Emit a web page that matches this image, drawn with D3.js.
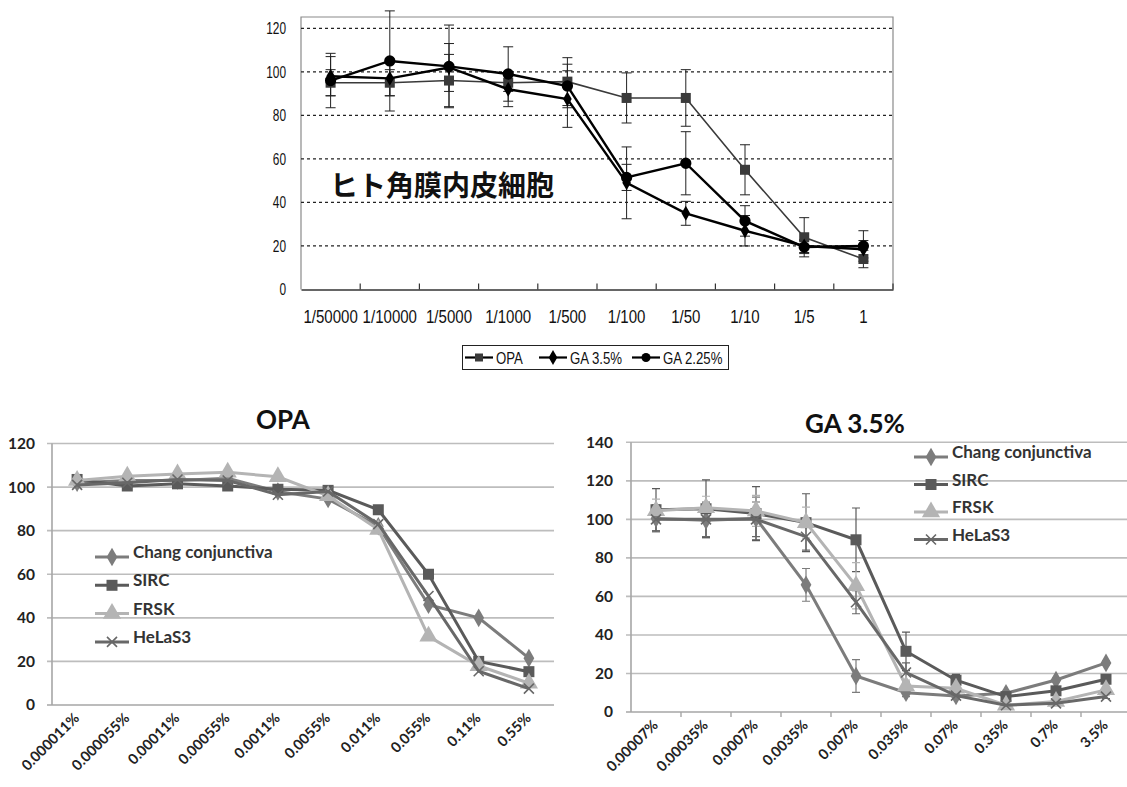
<!DOCTYPE html>
<html lang="ja">
<head>
<meta charset="UTF-8">
<title>Cytotoxicity charts</title>
<style>
  body { margin: 0; background: #fff; }
  svg { display: block; }
</style>
</head>
<body>
<svg id="chart" width="1127" height="787"></svg>
<script src="https://cdnjs.cloudflare.com/ajax/libs/d3/7.8.5/d3.min.js"></script>
<script>
// ---- top chart data (human corneal endothelial cells) ----
const topCats = ["1/50000", "1/10000", "1/5000", "1/1000", "1/500", "1/100", "1/50", "1/10", "1/5", "1"];
const topTicks = [0, 20, 40, 60, 80, 100, 120];
const opaVals = [95, 95, 96, 95, 95.5, 88, 88, 55, 24, 14];
const opaErr = [6, 6, 12, 4, 11, 11.5, 13, 11.5, 9, 4];
const ga35Vals = [98, 97, 102, 92, 87.5, 49, 35, 27, 20, 18.5];
const ga35Err = [9, 8, 11, 8, 13, 16.5, 5.5, 7, 3, 4];
const ga225Vals = [96, 105, 102.5, 99, 93.5, 51.5, 58, 31.5, 19.5, 20];
const ga225Err = [12.5, 23, 19, 12.5, 10, 6, 14.5, 7, 3, 7];

// ---- bottom left: OPA ----
const opaCats = ["0.000011%", "0.000055%", "0.00011%", "0.00055%", "0.0011%", "0.0055%", "0.011%", "0.055%", "0.11%", "0.55%"];
const opaTicks = [0, 20, 40, 60, 80, 100, 120];
const opaChang = [102, 103, 103, 104, 98, 94.5, 82, 46, 40, 21.5];
const opaSirc = [103.5, 100.5, 101.5, 100.5, 99, 98.5, 89.6, 60, 20, 15.3];
const opaFrsk = [103, 105, 106, 106.8, 104.7, 96, 80.5, 31.5, 18, 10];
const opaHela = [101, 102, 103.5, 103, 96.5, 98, 83, 50, 15.5, 7.5];

// ---- bottom right: GA 3.5% ----
const gaCats = ["0.00007%", "0.00035%", "0.0007%", "0.0035%", "0.007%", "0.035%", "0.07%", "0.35%", "0.7%", "3.5%"];
const gaTicks = [0, 20, 40, 60, 80, 100, 120, 140];
const gaChang = [100.5, 99.5, 100.5, 66, 18.7, 10, 8.3, 9.7, 16.6, 25.5];
const gaChangErr = [7, 9, 11, 8.5, 8.5, 2, 1.5, 1, 1, 1];
const gaSirc = [105, 105.5, 103, 98.3, 89.4, 31.5, 16.5, 8, 11, 17];
const gaSircErr = [11, 15, 14, 15, 16.5, 10, 3, 2, 2, 2];
const gaFrsk = [104.5, 106, 104.4, 98.3, 65.5, 13.5, 12.3, 3.5, 5.5, 11.5];
const gaFrskErr = [6, 6, 8, 8, 12, 3, 2, 1, 1, 1];
const gaHela = [100, 100, 100, 91, 57, 20.5, 8.5, 3.5, 4.5, 8];
const gaHelaErr = [6, 9, 9, 7, 6, 5, 2, 1, 1, 1];

const svg = d3.select("#chart");
const NARROW = "'Liberation Sans', Arial, sans-serif";
const CAL = "Lato, 'Open Sans', sans-serif";

// marker helper
function marker(g, type, x, y, color, size) {
  if (type === "cross") {
    const s = size / 2;
    g.append("path").attr("d", `M${x - s},${y - s}L${x + s},${y + s}M${x - s},${y + s}L${x + s},${y - s}`)
      .attr("stroke", color).attr("stroke-width", 1.6).attr("fill", "none");
    return;
  }
  const sym = { square: d3.symbolSquare, diamond: d3.symbolDiamond, circle: d3.symbolCircle, triangle: d3.symbolTriangle }[type];
  g.append("path").attr("d", d3.symbol(sym, size * size)())
    .attr("transform", `translate(${x},${y})`).attr("fill", color);
}

// ================= TOP CHART =================
(function () {
  const left = 301, right = 893, top = 17;
  const x = d3.scaleBand().domain(topCats).range([left, right]);
  const y = d3.scaleLinear().domain([0, 120]).range([289.5, 28.3]);
  const g = svg.append("g");

  // frame
  g.append("path").attr("d", `M${left},${y(0)}V${top}H${right}V${y(0)}`)
    .attr("fill", "none").attr("stroke", "#8a8a8a").attr("stroke-width", 1.2);
  // dashed grid
  g.selectAll(".grid").data(topTicks.filter(d => d > 0)).join("line")
    .attr("x1", left).attr("x2", right).attr("y1", d => y(d)).attr("y2", d => y(d))
    .attr("stroke", "#222").attr("stroke-width", 1.3).attr("stroke-dasharray", "3,3");

  // x axis
  const xa = g.append("g").attr("transform", `translate(0,${y(0)})`)
    .call(d3.axisBottom(x).tickSize(0).tickPadding(21));
  xa.select(".domain").attr("stroke", "#333").attr("stroke-width", 1.5);
  xa.selectAll("text").attr("font-family", NARROW).attr("font-size", 17.5).attr("fill", "#111")
    .attr("transform", "scale(0.86,1)");
  g.selectAll(".xt").data(topCats).join("line")
    .attr("x1", (d, i) => left + x.bandwidth() * (i + 1)).attr("x2", (d, i) => left + x.bandwidth() * (i + 1))
    .attr("y1", y(0)).attr("y2", y(0) - 6).attr("stroke", "#333").attr("stroke-width", 1.2);

  // y labels
  const ya = g.append("g").attr("transform", `translate(${left - 15},0)`)
    .call(d3.axisLeft(y).tickValues(topTicks).tickSize(0).tickPadding(0));
  ya.select(".domain").remove();
  ya.selectAll("text").attr("font-family", NARROW).attr("font-size", 16.5).attr("fill", "#111")
    .attr("transform", "scale(0.72,1)");

  const cx = d => x(d) + x.bandwidth() / 2;
  const series = [
    { name: "OPA", vals: opaVals, err: opaErr, color: "#3a3a3a", width: 1.6, mk: "square", size: 10 },
    { name: "GA 3.5%", vals: ga35Vals, err: ga35Err, color: "#000", width: 2.4, mk: "diamond", size: 8 },
    { name: "GA 2.25%", vals: ga225Vals, err: ga225Err, color: "#000", width: 2.4, mk: "circle", size: 10 }
  ];

  series.forEach(s => {
    s.vals.forEach((v, i) => {
      const xx = cx(topCats[i]);
      g.append("path").attr("d", `M${xx},${y(v + s.err[i])}V${y(v - s.err[i])}M${xx - 5},${y(v + s.err[i])}h10M${xx - 5},${y(v - s.err[i])}h10`)
        .attr("stroke", "#222").attr("stroke-width", 1).attr("fill", "none");
    });
  });
  series.forEach(s => {
    const line = d3.line().x((d, i) => cx(topCats[i])).y(d => y(d));
    g.append("path").datum(s.vals).attr("d", line).attr("fill", "none")
      .attr("stroke", s.color).attr("stroke-width", s.width);
    s.vals.forEach((v, i) => marker(g, s.mk, cx(topCats[i]), y(v), s.color, s.size));
  });

  g.append("text").attr("x", 330).attr("y", 196)
    .attr("font-family", "'Noto Sans CJK JP', sans-serif").attr("font-weight", 700)
    .attr("font-size", 28).attr("fill", "#111").text("ヒト角膜内皮細胞");

  // legend
  const lg = svg.append("g");
  lg.append("rect").attr("x", 462.5).attr("y", 345.5).attr("width", 266).attr("height", 24)
    .attr("fill", "#fff").attr("stroke", "#222").attr("stroke-width", 1);
  const lx = [465, 539, 632];
  series.forEach((s, i) => {
    lg.append("line").attr("x1", lx[i]).attr("x2", lx[i] + 28).attr("y1", 357.5).attr("y2", 357.5)
      .attr("stroke", "#000").attr("stroke-width", 2.2);
    marker(lg, s.mk, lx[i] + 14, 357.5, s.color, 8);
    lg.append("text").attr("font-family", NARROW).attr("transform", `translate(${lx[i] + 31},363.5) scale(0.8,1)`)
      .attr("font-size", 16.5).attr("fill", "#111").text(s.name);
  });
})();

// ================= BOTTOM CHARTS =================
function bottomChart(opts) {
  const g = svg.append("g");
  const x = d3.scaleBand().domain(opts.cats).range([opts.left, opts.right]);
  const y = d3.scaleLinear().domain([0, opts.max]).range([opts.y0, opts.yTop]);
  const cx = d => x(d) + x.bandwidth() / 2;

  g.selectAll(".grid").data(opts.ticks.filter(d => d > 0)).join("line")
    .attr("x1", opts.left - 5).attr("x2", opts.gridRight).attr("y1", d => y(d)).attr("y2", d => y(d))
    .attr("stroke", "#bdbdbd").attr("stroke-width", 1.6);
  g.append("line").attr("x1", opts.left).attr("x2", opts.left).attr("y1", opts.yTop).attr("y2", opts.y0)
    .attr("stroke", "#a6a6a6").attr("stroke-width", 1.6);
  g.append("line").attr("x1", opts.left - 5).attr("x2", opts.gridRight).attr("y1", opts.y0).attr("y2", opts.y0)
    .attr("stroke", "#a6a6a6").attr("stroke-width", 1.6);
  if (opts.xTicks) {
    g.selectAll(".xt").data(opts.cats).join("line")
      .attr("x1", d => x(d) + x.bandwidth()).attr("x2", d => x(d) + x.bandwidth())
      .attr("y1", opts.y0).attr("y2", opts.y0 + 5).attr("stroke", "#a6a6a6").attr("stroke-width", 1.4);
  }

  const ya = g.append("g").attr("transform", `translate(${opts.left},0)`)
    .call(d3.axisLeft(y).tickValues(opts.ticks).tickSize(0).tickPadding(opts.ypad));
  ya.select(".domain").remove();
  ya.selectAll("text").attr("font-family", CAL).attr("font-size", 15.5).attr("font-weight", 700).attr("fill", "#222");

  g.selectAll(".xl").data(opts.cats).join("text")
    .attr("font-family", CAL).attr("font-size", 14.5).attr("font-weight", 700).attr("fill", "#222")
    .attr("text-anchor", "end")
    .attr("transform", d => `translate(${cx(d) + 3},${opts.y0 + 14}) rotate(-45)`)
    .text(d => d);

  g.append("text").attr("font-family", CAL).attr("x", opts.titleX).attr("y", opts.titleY)
    .attr("text-anchor", "middle").attr("font-size", 26).attr("font-weight", 700)
    .attr("fill", "#111").text(opts.title);

  // error bars
  opts.series.forEach(s => {
    if (!s.err) return;
    s.vals.forEach((v, i) => {
      const xx = cx(opts.cats[i]);
      g.append("path").attr("d", `M${xx},${y(v + s.err[i])}V${y(v - s.err[i])}M${xx - 4},${y(v + s.err[i])}h8M${xx - 4},${y(v - s.err[i])}h8`)
        .attr("stroke", s.color).attr("stroke-width", 1.2).attr("fill", "none");
    });
  });
  opts.series.forEach(s => {
    const line = d3.line().x((d, i) => cx(opts.cats[i])).y(d => y(d));
    g.append("path").datum(s.vals).attr("d", line).attr("fill", "none")
      .attr("stroke", s.color).attr("stroke-width", 3);
    s.vals.forEach((v, i) => marker(g, s.mk, cx(opts.cats[i]), y(v), s.color, s.size));
  });

  // legend
  opts.series.forEach((s, i) => {
    const ly = opts.legY + i * opts.legStep;
    g.append("line").attr("x1", opts.legX).attr("x2", opts.legX + 34).attr("y1", ly).attr("y2", ly)
      .attr("stroke", s.color).attr("stroke-width", 3);
    marker(g, s.mk, opts.legX + 17, ly, s.color, s.size);
    g.append("text").attr("font-family", CAL).attr("x", opts.legX + 38).attr("y", ly + 1)
      .attr("font-size", 17).attr("font-weight", 700).attr("fill", "#333").text(s.name);
  });
}

const cChang = "#7c7c7c", cSirc = "#5a5a5a", cFrsk = "#b4b4b4", cHela = "#686868";

bottomChart({
  title: "OPA", titleX: 283, titleY: 429,
  cats: opaCats, ticks: opaTicks, max: 120,
  left: 52, right: 554, gridRight: 554, y0: 705, yTop: 443.5, ypad: 17, xTicks: false,
  legX: 95, legY: 557, legStep: 28.3,
  series: [
    { name: "Chang conjunctiva", vals: opaChang, color: cChang, mk: "diamond", size: 10 },
    { name: "SIRC", vals: opaSirc, color: cSirc, mk: "square", size: 11 },
    { name: "FRSK", vals: opaFrsk, color: cFrsk, mk: "triangle", size: 12 },
    { name: "HeLaS3", vals: opaHela, color: cHela, mk: "cross", size: 10 }
  ]
});

bottomChart({
  title: "GA 3.5%", titleX: 855, titleY: 433,
  cats: gaCats, ticks: gaTicks, max: 140,
  left: 631, right: 1131, gridRight: 1127, y0: 712, yTop: 442.3, ypad: 18, xTicks: true,
  legX: 914, legY: 457, legStep: 27.5,
  series: [
    { name: "Chang conjunctiva", vals: gaChang, err: gaChangErr, color: cChang, mk: "diamond", size: 10 },
    { name: "SIRC", vals: gaSirc, err: gaSircErr, color: cSirc, mk: "square", size: 11 },
    { name: "FRSK", vals: gaFrsk, err: gaFrskErr, color: cFrsk, mk: "triangle", size: 12 },
    { name: "HeLaS3", vals: gaHela, err: gaHelaErr, color: cHela, mk: "cross", size: 10 }
  ]
});
</script>
</body>
</html>
